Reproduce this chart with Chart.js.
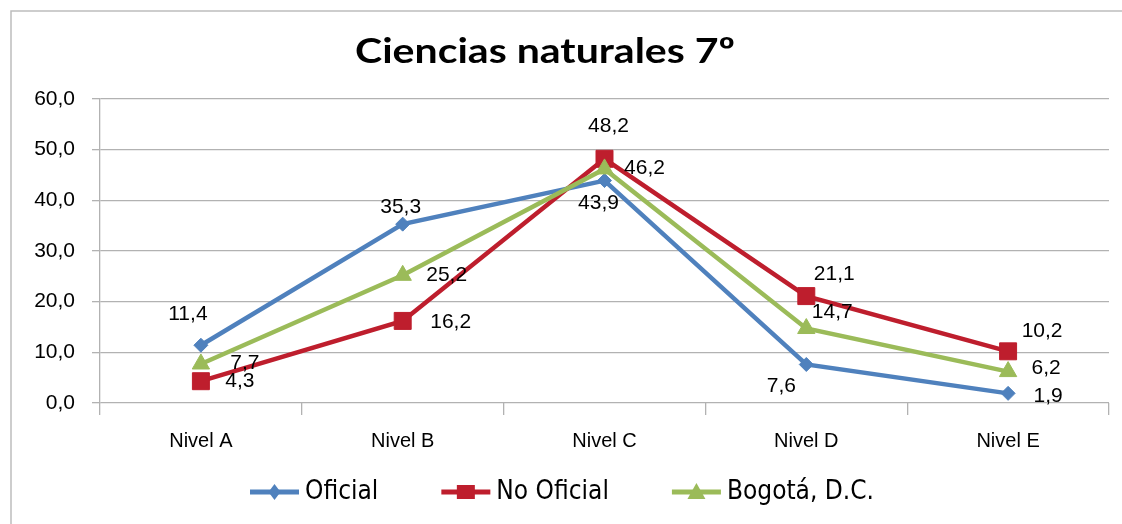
<!DOCTYPE html>
<html><head><meta charset="utf-8">
<script src="https://cdn.jsdelivr.net/npm/chart.js@4.4.0/dist/chart.umd.min.js"></script>
<style>html,body{margin:0;padding:0;background:#fff;} #wrap{width:1122px;height:524px;position:relative;}</style>
</head><body><div id="wrap"><canvas id="c" width="1122" height="524"></canvas></div>
<script>
const titleText = 'Ciencias naturales 7º';
const categories = ['Nivel A', 'Nivel B', 'Nivel C', 'Nivel D', 'Nivel E'];
const seriesNames = ['Oficial', 'No Oficial', 'Bogotá, D.C.'];
const oficial = [11.4, 35.3, 43.9, 7.6, 1.9];
const noOficial = [4.3, 16.2, 48.2, 21.1, 10.2];
const bogota = [7.7, 25.2, 46.2, 14.7, 6.2];
const yMin = 0, yMax = 60, yStep = 10;

// styling (not data)
const colors = ['#4F81BD', '#BE1E2D', '#9BBB59'];
const pointStyles = ['rectRot', 'rect', 'triangle'];
const pointRadii = [7, 12, 10];
const labelOffsets = [
  [[-13, -31], [-2, -17], [-6, 23], [-25, 22], [40, 3]],
  [[39, 0], [48, 1], [4, -33], [28, -22], [34, -20]],
  [[44, -1], [44, 0], [40, -1], [26, -16], [38, -3]]
];
const fmt = v => v.toFixed(1).replace('.', ',');
const GRID = '#b2b2b2';

const seriesData = [oficial, noOficial, bogota];
const datasets = seriesData.map((d, i) => ({
  label: seriesNames[i], data: d,
  borderColor: colors[i], backgroundColor: colors[i],
  pointBackgroundColor: colors[i], pointBorderColor: colors[i],
  pointStyle: pointStyles[i], pointRadius: pointRadii[i], pointBorderWidth: 1,
  borderWidth: 4.5, tension: 0, fill: false, order: 2 - i
}));

const custom = {
  id: 'custom',
  afterDatasetsDraw(chart) {
    const ctx = chart.ctx;
    ctx.save();
    ctx.font = '21px "Liberation Sans", Arial, sans-serif';
    ctx.fillStyle = '#000';
    ctx.textAlign = 'center';
    ctx.textBaseline = 'middle';
    seriesData.forEach((d, i) => {
      const meta = chart.getDatasetMeta(i);
      d.forEach((v, j) => {
        const p = meta.data[j];
        const o = labelOffsets[i][j];
        ctx.fillText(fmt(v), p.x + o[0], p.y + o[1]);
      });
    });
    ctx.restore();
  },
  afterDraw(chart) {
    const ctx = chart.ctx;
    ctx.save();
    ctx.strokeStyle = '#bdbdbd';
    ctx.lineWidth = 1.5;
    ctx.beginPath();
    ctx.moveTo(11, 530); ctx.lineTo(11, 11); ctx.lineTo(1130, 11);
    ctx.stroke();
    ctx.font = 'bold 35px Lato, "Open Sans", sans-serif';
    ctx.fillStyle = '#000';
    ctx.textBaseline = 'alphabetic';
    ctx.textAlign = 'left';
    const tw = ctx.measureText(titleText).width;
    const sx = 380 / tw;
    ctx.save();
    ctx.translate(355, 63);
    ctx.scale(sx, 1);
    ctx.fillText(titleText, 0, 0);
    ctx.restore();
    ctx.font = '26px "DejaVu Sans Condensed", "DejaVu Sans", sans-serif';
    ctx.textBaseline = 'middle';
    const lineW = 49, gapT = 6, gapItem = 63, ly = 492;
    const widths = seriesNames.map(n => lineW + gapT + ctx.measureText(n).width);
    const total = widths.reduce((a, b) => a + b, 0) + gapItem * (seriesNames.length - 1);
    let x = 562 - total / 2;
    seriesNames.forEach((n, i) => {
      ctx.strokeStyle = colors[i];
      ctx.lineWidth = 5;
      ctx.beginPath(); ctx.moveTo(x, ly); ctx.lineTo(x + lineW, ly); ctx.stroke();
      const cx = x + lineW / 2;
      ctx.fillStyle = colors[i];
      ctx.beginPath();
      if (i === 0) {
        ctx.moveTo(cx, ly - 8); ctx.lineTo(cx + 6, ly); ctx.lineTo(cx, ly + 8); ctx.lineTo(cx - 6, ly);
      } else if (i === 1) {
        ctx.rect(cx - 9, ly - 7, 18, 14);
      } else {
        ctx.moveTo(cx, ly - 9); ctx.lineTo(cx + 9, ly + 7); ctx.lineTo(cx - 9, ly + 7);
      }
      ctx.closePath(); ctx.fill();
      ctx.fillStyle = '#000';
      ctx.textAlign = 'left';
      ctx.fillText(n, x + lineW + gapT, ly);
      x += widths[i] + gapItem;
    });
    ctx.restore();
  }
};

new Chart(document.getElementById('c'), {
  type: 'line',
  data: { labels: categories, datasets },
  options: {
    responsive: false, animation: false,
    layout: { padding: { left: 0, right: 12, top: 99, bottom: 0 } },
    plugins: { legend: { display: false }, title: { display: false }, tooltip: { enabled: false } },
    scales: {
      x: {
        offset: true,
        grid: { drawOnChartArea: false, drawTicks: true, tickLength: 12, color: GRID, offset: true, lineWidth: 1.3 },
        border: { display: false },
        ticks: { font: { family: '"Liberation Sans", Arial, sans-serif', size: 20 }, color: '#000', padding: 14, maxRotation: 0 },
        afterFit(a) { a.height = 121; }
      },
      y: {
        min: yMin, max: yMax,
        ticks: { stepSize: yStep, callback: v => fmt(v), font: { family: '"Liberation Sans", Arial, sans-serif', size: 21 }, color: '#000', padding: 17 },
        grid: { color: GRID, tickLength: 8, lineWidth: 1.3 },
        border: { display: true, color: GRID, width: 1.3 },
        afterFit(a) { a.width = 100; }
      }
    }
  },
  plugins: [custom]
});
</script></body></html>
